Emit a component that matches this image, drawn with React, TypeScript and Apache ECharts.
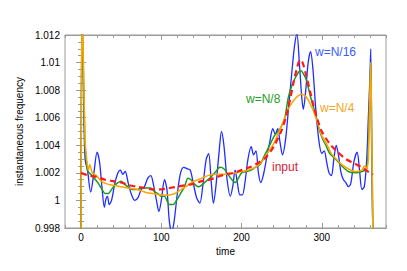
import React, { useEffect, useRef } from "react";
import * as echarts from "echarts";

// time, value pairs
const inputT = [0,10,20,30,40,50,60,70,80,90,100,110,120,130,140,150,160,170,180,190,200,210,220,230,240,250,255,260,265,270,273,276,280,285,290,295,300,310,320,330,340,350,360,364];
const inputV = [1.0020,1.0018,1.0017,1.0015,1.0014,1.0013,1.0011,1.0010,1.0009,1.0008,1.0008,1.0009,1.0010,1.0011,1.0012,1.0014,1.0015,1.0017,1.0019,1.0020,1.0022,1.0024,1.0027,1.0031,1.0039,1.0051,1.0060,1.0072,1.0086,1.0098,1.0102,1.0100,1.0092,1.0080,1.0068,1.0058,1.0050,1.0041,1.0035,1.0030,1.0027,1.0024,1.0020,1.0019];

const n16T = [0,1,3,5,8,12,16,20,23,26,29,31,33,35,38,42,46,49,52,55,59,63,67,71,75,79,83,87,90,94,97,100,104,107,110,113,116,120,124,128,132,136,140,144,148,152,156,159,162,165,168,172,175,178,182,186,189,192,195,198,201,204,208,212,215,218,221,224,227,231,235,239,242,245,248,251,255,259,263,266,269,272,275,277,280,283,286,289,292,296,300,303,306,309,312,315,318,321,324,327,330,333,336,340,344,347,350,353,356,358,360,361,362,364];
const n16V = [0.9960,1.0140,1.0080,1.0030,1.0022,1.0006,1.0020,1.0035,1.0028,1.0010,0.9995,1.0001,1.0003,0.9997,1.0000,1.0012,1.0020,1.0022,1.0019,1.0021,1.0012,1.0004,1.0000,1.0002,1.0008,1.0010,1.0016,1.0018,1.0012,1.0000,0.9992,1.0000,1.0015,1.0008,0.9985,0.9977,0.9985,1.0005,1.0020,1.0024,1.0023,1.0022,1.0012,1.0002,0.9998,1.0012,1.0030,1.0034,1.0015,0.9998,1.0010,1.0035,1.0050,1.0040,1.0015,1.0003,1.0010,1.0022,1.0012,1.0004,1.0004,1.0012,1.0030,1.0039,1.0033,1.0036,1.0020,1.0013,1.0018,1.0030,1.0042,1.0052,1.0048,1.0052,1.0042,1.0033,1.0045,1.0070,1.0095,1.0112,1.0121,1.0100,1.0075,1.0066,1.0080,1.0100,1.0108,1.0095,1.0070,1.0045,1.0034,1.0036,1.0028,1.0020,1.0018,1.0030,1.0040,1.0032,1.0020,1.0015,1.0013,1.0010,1.0012,1.0028,1.0035,1.0022,1.0008,1.0010,1.0030,1.0060,1.0090,1.0110,1.0040,0.9960];

const n8T = [0,1,3,5,8,10,14,18,22,26,30,34,38,42,46,50,54,58,64,70,76,82,87,92,96,100,104,110,115,120,125,129,133,137,141,146,150,156,162,168,173,178,183,188,192,196,200,206,212,217,223,229,235,241,248,254,258,263,267,271,274,277,281,286,292,296,300,305,310,317,325,333,342,350,356,358,360,361,362,364];
const n8V = [0.9960,1.0140,1.0090,1.0040,1.0022,1.0020,1.0018,1.0015,1.0012,1.0008,1.0005,1.0005,1.0008,1.0011,1.0013,1.0014,1.0012,1.0010,1.0008,1.0008,1.0009,1.0009,1.0009,1.0006,1.0005,1.0003,1.0003,0.9997,0.9997,1.0001,1.0006,1.0010,1.0016,1.0015,1.0012,1.0010,1.0011,1.0014,1.0017,1.0021,1.0024,1.0023,1.0019,1.0015,1.0013,1.0016,1.0020,1.0021,1.0022,1.0024,1.0026,1.0033,1.0040,1.0047,1.0052,1.0060,1.0074,1.0084,1.0089,1.0093,1.0094,1.0092,1.0087,1.0075,1.0063,1.0053,1.0046,1.0040,1.0034,1.0030,1.0025,1.0021,1.0020,1.0021,1.0023,1.0040,1.0080,1.0100,1.0060,0.9960];

const n4T = [0,1,3,5,7,9,11,12,14,19,25,32,40,50,58,70,80,90,100,110,117,125,133,141,150,158,168,175,183,192,200,208,217,225,233,240,246,252,258,263,267,271,275,279,283,288,292,296,300,306,312,318,325,333,342,350,353,356,358,360,361,362,364];
const n4V = [0.9960,1.0140,1.0100,1.0044,1.0030,1.0022,1.0026,1.0024,1.0020,1.0018,1.0014,1.0012,1.0011,1.0010,1.0009,1.0008,1.0006,1.0005,1.0004,1.0004,1.0005,1.0008,1.0011,1.0014,1.0016,1.0018,1.0019,1.0019,1.0019,1.0020,1.0021,1.0022,1.0024,1.0028,1.0035,1.0041,1.0049,1.0057,1.0066,1.0071,1.0074,1.0076,1.0077,1.0076,1.0073,1.0067,1.0061,1.0054,1.0047,1.0041,1.0034,1.0030,1.0026,1.0023,1.0021,1.0022,1.0025,1.0023,1.0030,1.0080,1.0100,1.0060,0.9960];

const xMajorTicks = [0, 100, 200, 300];
const yTickLabels = ["0.998", "1", "1.002", "1.004", "1.006", "1.008", "1.01", "1.012"];

const zip = (t: number[], v: number[]) => t.map((x, i) => [x, v[i]]);

const FONT = "Liberation Sans, Arial, sans-serif";
const FRAME = "#9a9a9a";

export default function App() {
  const ref = useRef<HTMLDivElement>(null);
  useEffect(() => {
    if (!ref.current) return;
    const chart = echarts.init(ref.current, undefined, { renderer: "svg" });
    const xCommon = {
      type: "value" as const,
      min: -20,
      max: 380,
      splitLine: { show: false },
      axisLine: { show: true, lineStyle: { color: FRAME, width: 1 } },
    };
    const minorVals: number[] = [];
    for (let v = -20; v <= 380; v += 20) if (v % 100 !== 0) minorVals.push(v);
    chart.setOption({
      animation: false,
      grid: { left: 65, right: 21, top: 35, bottom: 43, show: true, borderColor: FRAME, borderWidth: 1 },
      xAxis: [
        {
          ...xCommon,
          position: "bottom",
          interval: 20,
          name: "time",
          nameLocation: "middle",
          nameGap: 15,
          nameTextStyle: { fontFamily: FONT, fontSize: 10, color: "#000" },
          axisTick: { show: true, inside: true, length: 5, lineStyle: { color: FRAME }, customValues: xMajorTicks },
          axisLabel: {
            fontFamily: FONT, fontSize: 10, color: "#000", margin: 4,
            customValues: xMajorTicks,
            formatter: (v: number) => (xMajorTicks.includes(Math.round(v)) ? String(Math.round(v)) : ""),
          },
        },
        {
          ...xCommon,
          position: "bottom",
          interval: 20,
          axisTick: { show: true, inside: true, length: 3, lineStyle: { color: FRAME }, customValues: minorVals },
          axisLabel: { show: false },
        },
        {
          ...xCommon,
          position: "top",
          interval: 20,
          axisTick: { show: true, inside: true, length: 5, lineStyle: { color: FRAME }, customValues: xMajorTicks },
          axisLabel: { show: false },
        },
        {
          ...xCommon,
          position: "top",
          interval: 20,
          axisTick: { show: true, inside: true, length: 3, lineStyle: { color: FRAME }, customValues: minorVals },
          axisLabel: { show: false },
        },
      ],
      yAxis: [
        {
          type: "value",
          min: 0.998,
          max: 1.012,
          interval: 0.002,
          position: "left",
          name: "instantaneous frequency",
          nameLocation: "middle",
          nameGap: 38,
          nameTextStyle: { fontFamily: FONT, fontSize: 10, color: "#000" },
          splitLine: { show: false },
          axisLine: { show: true, lineStyle: { color: FRAME } },
          axisTick: { show: true, inside: true, length: 5, lineStyle: { color: FRAME } },
          minorTick: { show: true, splitNumber: 4, length: 3, lineStyle: { color: FRAME } },
          axisLabel: {
            fontFamily: FONT, fontSize: 10, color: "#000", margin: 5,
            formatter: (v: number) => {
              const idx = Math.round((v - 0.998) / 0.002);
              return yTickLabels[idx] ?? "";
            },
          },
        },
        {
          type: "value",
          min: 0.998,
          max: 1.012,
          interval: 0.002,
          position: "right",
          splitLine: { show: false },
          axisLine: { show: true, lineStyle: { color: FRAME } },
          axisTick: { show: true, inside: true, length: 5, lineStyle: { color: FRAME } },
          minorTick: { show: true, splitNumber: 4, length: 3, lineStyle: { color: FRAME } },
          axisLabel: { show: false },
        },
      ],
      series: [
        {
          name: "w=N/16", type: "line", data: zip(n16T, n16V), showSymbol: false, smooth: 0.3,
          lineStyle: { color: "#1f2cff", width: 1.3 }, clip: true, z: 2,
        },
        {
          name: "w=N/8", type: "line", data: zip(n8T, n8V), showSymbol: false, smooth: 0.2,
          lineStyle: { color: "#1f9a1f", width: 1.5 }, clip: true, z: 3,
        },
        {
          name: "w=N/4", type: "line", data: zip(n4T, n4V), showSymbol: false, smooth: 0.2,
          lineStyle: { color: "#ffa500", width: 1.5 }, clip: true, z: 4,
        },
        {
          name: "input", type: "line", data: zip(inputT, inputV), showSymbol: false, smooth: 0.3,
          lineStyle: { color: "#ff1a1a", width: 2.2, type: [6, 4] }, clip: true, z: 5,
        },
      ],
      graphic: [
        { type: "text", left: 315, top: 46, style: { text: "w=N/16", fill: "#3a5cff", font: `12px ${FONT}` } },
        { type: "text", left: 246, top: 93, style: { text: "w=N/8", fill: "#21a021", font: `12px ${FONT}` } },
        { type: "text", left: 320, top: 102, style: { text: "w=N/4", fill: "#f5a623", font: `12px ${FONT}` } },
        { type: "text", left: 272, top: 161, style: { text: "input", fill: "#d0203c", font: `12px ${FONT}` } },
      ],
    });
    return () => chart.dispose();
  }, []);
  return <div ref={ref} style={{ width: 407, height: 271, position: "absolute", left: 0, top: 0 }} />;
}
